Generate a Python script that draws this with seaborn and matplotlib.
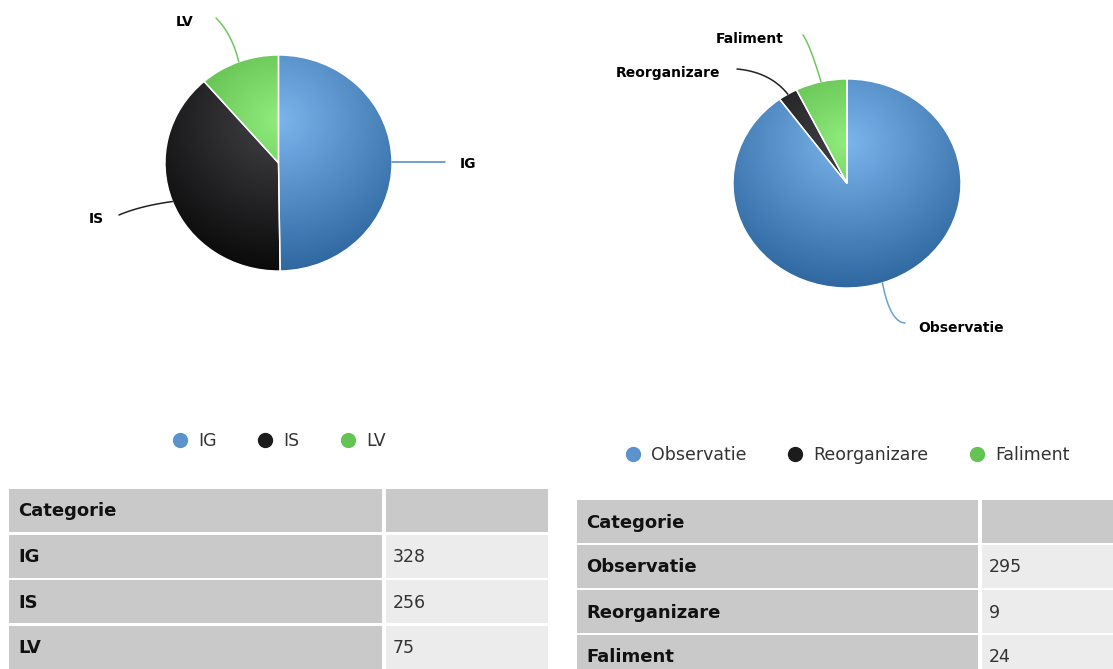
import numpy as np
import matplotlib
matplotlib.use("Agg")
import matplotlib.pyplot as plt
from matplotlib.patches import Rectangle
from matplotlib.lines import Line2D
from matplotlib.colors import to_rgb
import seaborn as sns

# ---------------- data ----------------
left_categories = ["IG", "IS", "LV"]
left_values = [328, 256, 75]
right_categories = ["Observatie", "Reorganizare", "Faliment"]
right_values = [295, 9, 24]
table_header = ["Categorie", ""]

# ---------------- style ----------------
sns.set_theme(style="white")
plt.rcParams["font.family"] = ["DejaVu Sans"]

base_colors = ["#7cb5ec", "#434348", "#90ed7d"]
dark_colors = ["#2f67a0", "#0a0a0a", "#44a131"]

W, H = 1113, 669
fig = plt.figure(figsize=(W / 100, H / 100), dpi=100)
fig.patch.set_facecolor("white")


def fx(px):
    return px / W


def fy(py):
    return 1 - py / H


def grad_image(base, dark, n=300):
    xs = np.linspace(-1, 1, n)
    X, Y = np.meshgrid(xs, xs)
    d = np.clip(np.sqrt(X ** 2 + (Y - 0.4) ** 2) / 1.4, 0, 1)[..., None]
    b = np.array(to_rgb(base))
    k = np.array(to_rgb(dark))
    return b * (1 - d) + k * d


def draw_pie(cx, cy, rx, ry, values):
    ax = fig.add_axes([fx(cx - rx), fy(cy + ry), 2 * rx / W, 2 * ry / H])
    wedges, _ = ax.pie(values, startangle=90, counterclock=False, radius=1,
                       colors=base_colors,
                       wedgeprops=dict(edgecolor="white", linewidth=1.0))
    for w, b, k in zip(wedges, base_colors, dark_colors):
        im = ax.imshow(grad_image(b, k), extent=(-1, 1, -1, 1), origin="lower",
                       zorder=1, interpolation="bilinear", aspect="auto")
        im.set_clip_path(w)
        w.set_facecolor("none")
        w.set_zorder(3)
    ax.set_aspect("auto")
    ax.set_xlim(-1.0, 1.0)
    ax.set_ylim(-1.0, 1.0)
    ax.axis("off")
    tot = float(sum(values))
    cum = np.cumsum([0] + list(values))
    anchors = []
    for i in range(len(values)):
        frac = (cum[i] + values[i] / 2) / tot
        ang = np.deg2rad(90 - 360 * frac)
        anchors.append((cx + rx * np.cos(ang), cy - ry * np.sin(ang)))
    return anchors


ov = fig.add_axes([0, 0, 1, 1], zorder=5)
ov.set_xlim(0, W)
ov.set_ylim(H, 0)
ov.axis("off")
ov.patch.set_alpha(0)

left_anchor = draw_pie(278.5, 163, 113.5, 108, left_values)
right_anchor = draw_pie(847, 183.5, 114, 104.5, right_values)

label_font = dict(fontsize=10, fontweight="bold", color="#000000")


def connector(anchor, mid, end, color):
    t = np.linspace(0, 1, 40)
    bx = (1 - t) ** 2 * anchor[0] + 2 * (1 - t) * t * mid[0] + t ** 2 * end[0]
    by = (1 - t) ** 2 * anchor[1] + 2 * (1 - t) * t * mid[1] + t ** 2 * end[1]
    ov.plot(bx, by, color=color, lw=1.1, solid_capstyle="round")


blue_line = "#4f86bf"
green_line = "#6cc95c"
dark_line = "#222222"

# left pie labels
connector(left_anchor[0], (420, left_anchor[0][1]), (445, left_anchor[0][1]), blue_line)
ov.text(460, 164, left_categories[0], ha="left", va="center", **label_font)
connector(left_anchor[1], (140, 206), (119, 215), dark_line)
ov.text(104, 219, left_categories[1], ha="right", va="center", **label_font)
connector(left_anchor[2], (232, 34), (216, 18), green_line)
ov.text(185, 22, left_categories[2], ha="center", va="center", **label_font)

# right pie labels
connector(right_anchor[0], (890, 322), (905, 323), "#6a9fd6")
ov.text(918, 328, right_categories[0], ha="left", va="center", **label_font)
connector(right_anchor[1], (770, 72), (737, 69), dark_line)
ov.text(720, 73, right_categories[1], ha="right", va="center", **label_font)
connector(right_anchor[2], (810, 45), (803, 35), green_line)
ov.text(784, 39, right_categories[2], ha="right", va="center", **label_font)

# legends
legend_colors = ["#5b93cc", "#1c1c1c", "#63c453"]


def make_legend(labels, cx, cy):
    handles = [Line2D([], [], marker="o", linestyle="none", markersize=10,
                      markerfacecolor=c, markeredgecolor=c) for c in legend_colors]
    leg = fig.legend(handles, labels, loc="center", bbox_to_anchor=(fx(cx), fy(cy)),
                     ncol=3, frameon=False, fontsize=12.5, handletextpad=0.55,
                     columnspacing=2.3, handlelength=1.0)
    for t in leg.get_texts():
        t.set_color("#333333")


make_legend(left_categories, 278.5, 441)
make_legend(right_categories, 847, 455)


# tables
def draw_table(x0, xsplit, x1, top, pitch, height, cats, vals):
    rows = [table_header] + [[c, str(v)] for c, v in zip(cats, vals)]
    for i, (a, b) in enumerate(rows):
        y = top + i * pitch
        c1 = "#c9c9c9"
        c2 = "#c9c9c9" if i == 0 else "#ececec"
        ov.add_patch(Rectangle((x0, y), xsplit - x0, height, facecolor=c1, edgecolor="none"))
        ov.add_patch(Rectangle((xsplit + 4, y), x1 - xsplit - 4, height, facecolor=c2, edgecolor="none"))
        ov.text(x0 + 9, y + height / 2 + 1, a, ha="left", va="center", fontsize=13,
                fontweight="bold", color="#111111")
        ov.text(xsplit + 11, y + height / 2 + 1, b, ha="left", va="center", fontsize=12.5,
                color="#333333")


draw_table(9, 382, 548, 489, 45.5, 43, left_categories, left_values)
draw_table(577, 978, 1120, 500, 45, 43, right_categories, right_values)

fig.savefig("out.png", dpi=100, facecolor="white")
